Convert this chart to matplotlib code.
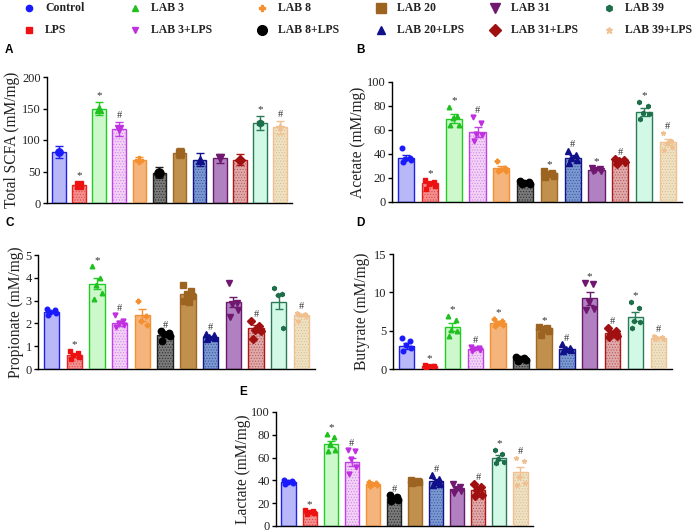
import numpy as np
import matplotlib
matplotlib.use('Agg')
import matplotlib.pyplot as plt

plt.rcParams['font.family'] = ['Liberation Serif', 'DejaVu Serif']
plt.rcParams['hatch.linewidth'] = 0.45

W, H = 698, 532

groups = ['Control', 'LPS', 'LAB 3', 'LAB 3+LPS', 'LAB 8', 'LAB 8+LPS',
          'LAB 20', 'LAB 20+LPS', 'LAB 31', 'LAB 31+LPS', 'LAB 39', 'LAB 39+LPS']

# A - total SCFA (mean and SEM only)
scfa_mean = [81, 29, 150, 118, 69, 48, 79, 69, 71, 69, 127, 120]
scfa_sem = [10, 4, 10, 11, 4, 9, 8, 10, 7, 9, 11, 10]
scfa_sig = ['', '*', '*', '#', '', '', '', '', '', '', '*', '#']

# B - acetate
acetate_mean = [37, 15.5, 69.5, 58.5, 28, 15.8, 24, 37, 27, 34, 75, 50]
acetate_sem = [2.3, 1.6, 3.5, 4.3, 1.6, 0.5, 1.2, 2.0, 0.6, 0.8, 3.0, 2.5]
acetate_pts = [[45, 37, 36, 35, 33], [18.5, 17, 15, 13.5, 11], [79, 72, 70, 64, 64],
               [71, 66, 57, 56, 51], [34, 28.5, 27, 26, 25.5], [17.5, 16.5, 15.8, 15.2, 14.7],
               [26, 24.5, 23, 21.5, 21], [42.5, 39, 36.5, 35, 32.5], [28.5, 27.5, 26.5, 26, 25.5],
               [36, 35, 34, 33, 32], [83, 80, 74, 73, 69.5], [57.5, 51, 49, 46, 43]]
acetate_sig = ['', '*', '*', '#', '', '', '*', '#', '*', '#', '*', '#']

# C - propionate
propionate_mean = [2.5, 0.6, 3.74, 2.0, 2.37, 1.48, 3.27, 1.4, 2.92, 1.8, 2.95, 2.37]
propionate_sem = [0.05, 0.06, 0.25, 0.12, 0.25, 0.08, 0.12, 0.04, 0.22, 0.14, 0.3, 0.06]
propionate_pts = [[2.65, 2.58, 2.52, 2.45, 2.36], [0.78, 0.68, 0.6, 0.52, 0.45],
                  [4.5, 3.97, 3.7, 3.34, 3.05], [2.36, 2.1, 2.0, 1.92, 1.83],
                  [2.97, 2.32, 2.12, 1.95], [1.65, 1.58, 1.52, 1.45, 1.25],
                  [3.7, 3.42, 3.3, 3.2, 3.0, 2.95], [1.54, 1.47, 1.42, 1.37, 1.32],
                  [3.78, 2.9, 2.83, 2.6, 2.27], [2.1, 1.87, 1.73, 1.65, 1.33],
                  [3.56, 3.27, 3.24, 1.8], [2.46, 2.42, 2.38, 2.33, 2.1]]
propionate_sig = ['', '*', '*', '#', '', '#', '', '#', '', '#', '', '#']

# D - butyrate
butyrate_mean = [3.0, 0.4, 5.5, 2.6, 6.0, 1.3, 5.3, 2.6, 9.2, 4.7, 6.8, 4.1]
butyrate_sem = [0.35, 0.05, 0.5, 0.1, 0.2, 0.1, 0.25, 0.15, 0.8, 0.2, 0.6, 0.12]
butyrate_pts = [[4.0, 3.7, 3.1, 2.7, 2.3], [0.5, 0.45, 0.4, 0.35, 0.3], [6.9, 6.4, 5.1, 4.9, 4.3],
                [2.9, 2.7, 2.6, 2.5, 2.4], [6.5, 6.2, 6.0, 5.8, 5.65], [1.6, 1.45, 1.3, 1.2, 1.05],
                [5.5, 5.4, 5.2, 4.9, 4.5], [3.2, 2.8, 2.6, 2.45, 2.35], [11.2, 11.1, 8.8, 7.8, 7.7],
                [5.35, 4.9, 4.6, 4.35, 4.2], [8.8, 8.0, 6.2, 6.1, 5.35], [4.35, 4.2, 4.1, 3.95, 3.9]]
butyrate_sig = ['', '*', '*', '#', '*', '', '*', '#', '*', '#', '*', '#']

# E - lactate
lactate_mean = [38.5, 12, 72, 56.5, 36.5, 24.5, 39.5, 39.5, 32.5, 31.5, 60, 47.5]
lactate_sem = [0.6, 0.6, 3, 3.5, 0.7, 1.2, 0.4, 1.5, 1.2, 2.2, 2, 4.5]
lactate_pts = [[40, 39.3, 38.5, 37.8, 36.7], [13.7, 12.8, 12, 11, 10.3], [80.5, 78.5, 72, 67, 66],
               [66.5, 66, 59, 52, 46], [38.6, 37.5, 36.5, 35.6, 35], [27, 25.5, 24, 22.5, 22],
               [40.2, 39.6, 39, 38.4, 37.8], [44.5, 41, 38.5, 37, 35.7], [36.5, 34.5, 32.5, 30.5, 29],
               [37, 34.2, 31.5, 27, 26], [66.5, 63.5, 59, 56, 55.3], [60, 57, 43, 37.5, 36]]
lactate_sig = ['', '*', '*', '#', '', '#', '', '#', '', '#', '*', '#']

# styles per group
face = ['#b8b8f8', '#f29090', '#ccf8cc', '#f2d2f4', '#f4b47c', '#7a7a7a',
        '#c0904c', '#7c98d0', '#b080c0', '#dcaaaa', '#d2f8e6', '#efe2c4']
edge = ['#2020e8', '#e82020', '#22cc22', '#c040e8', '#f59030', '#202020',
        '#a06828', '#12128a', '#6a1a6a', '#b01818', '#2a7a58', '#f0c090']
hatch_col = [None, '#e84040', None, '#d27ef0', None, '#2a2a2a',
             None, '#3454a4', None, '#c45050', None, '#d8bc88']
mcol = ['#1a1aff', '#ee1111', '#20c020', '#c030e0', '#f59030', '#000000',
        '#9c6420', '#10108a', '#701870', '#a01010', '#1e6e4a', '#f0c090']
mk = ['o', 's', '^', 'v', 'P', 'o', 's', '^', 'v', 'D', 'h', '*']
ms = [3.3, 3.3, 3.3, 3.5, 3.3, 4.6, 4.3, 3.8, 4.3, 3.6, 3.0, 3.4]
jit = [-0.2, 0.15, -0.05, 0.2, -0.15, 0.05]


def rect(l, r, b, t):
    return [l / W, 1 - b / H, (r - l) / W, (b - t) / H]


def panel(box, means, sems, pts, sig, ylim, yticks, ylabel, lab_x, letter, letter_xy):
    ax = fig.add_axes(rect(*box))
    x = np.arange(len(groups))
    for i in x:
        if hatch_col[i]:
            ax.bar(i, means[i], 0.68, color=face[i], edgecolor=hatch_col[i], hatch='......',
                   linewidth=0, zorder=2)
        else:
            ax.bar(i, means[i], 0.68, color=face[i], linewidth=0, zorder=2)
        ax.bar(i, means[i], 0.68, fill=False, edgecolor=edge[i], linewidth=1.0, zorder=3)
        ax.errorbar(i, means[i], yerr=sems[i], fmt='none', ecolor=edge[i], elinewidth=1,
                    capsize=3.2, capthick=1, zorder=5)
        top = means[i] + sems[i]
        if pts is None:
            ax.plot(i, means[i], marker=mk[i], color=mcol[i], ms=ms[i] + 2, zorder=6,
                    linestyle='none')
        else:
            p = pts[i]
            ax.plot(i + np.array(jit[:len(p)]), p, marker=mk[i], color=mcol[i], ms=ms[i],
                    linestyle='none', zorder=6)
            top = max(top, max(p))
        if sig[i]:
            ax.text(i, top + ylim * 0.015, sig[i], ha='center', va='bottom',
                    fontsize=8 if sig[i] == '*' else 7.5, color='#333333', zorder=7)
    ax.set_xlim(-0.6, 11.6)
    ax.set_ylim(0, ylim)
    ax.set_yticks(yticks)
    ax.set_xticks([])
    ax.spines['top'].set_visible(False)
    ax.spines['right'].set_visible(False)
    ax.spines['left'].set_linewidth(1)
    ax.spines['bottom'].set_linewidth(1)
    ax.tick_params(axis='y', direction='out', length=3, width=1, labelsize=8.9, pad=1.5,
                   labelcolor='#222222')
    ax.set_ylabel(ylabel, fontsize=11.2, color='#222222')
    l, r = box[0], box[1]
    # ylabel anchor is the right edge of the rotated text
    ax.yaxis.set_label_coords((lab_x - l) / (r - l), 0.5)
    fig.text(letter_xy[0] / W, 1 - letter_xy[1] / H, letter, family='Liberation Sans',
             fontweight='bold', fontsize=8.5, ha='left', va='center')
    return ax


fig = plt.figure(figsize=(W / 100, H / 100), dpi=100)

panel((47, 292, 203, 77), scfa_mean, scfa_sem, None, scfa_sig, 200, [0, 50, 100, 150, 200],
      'Total SCFA (mM/mg)', 20, 'A', (5, 50))
panel((392, 682, 202, 82), acetate_mean, acetate_sem, acetate_pts, acetate_sig, 100,
      [0, 20, 40, 60, 80, 100], 'Acetate (mM/mg)', 366, 'B', (356, 50))
panel((38, 315, 369, 255), propionate_mean, propionate_sem, propionate_pts, propionate_sig, 5,
      [0, 1, 2, 3, 4, 5], 'Propionate (mM/mg)', 24, 'C', (5, 223))
panel((393, 672, 369, 254), butyrate_mean, butyrate_sem, butyrate_pts, butyrate_sig, 15,
      [0, 5, 10, 15], 'Butyrate (mM/mg)', 370, 'D', (356, 223))
panel((276, 533, 526, 412), lactate_mean, lactate_sem, lactate_pts, lactate_sig, 100,
      [0, 20, 40, 60, 80, 100], 'Lactate (mM/mg)', 251, 'E', (239, 392))

# legend in pixel coordinates
leg = fig.add_axes([0, 1 - 42 / H, 1, 42 / H])
leg.set_xlim(0, W)
leg.set_ylim(42, 0)
leg.axis('off')
col_x = [29, 135, 262, 381, 495, 609]
row_y = [8, 30]
leg_ms = [4.5, 4.5, 4.5, 4.5, 5, 7, 7, 6, 7, 6, 4.5, 5]
for i, g in enumerate(groups):
    cx = col_x[i // 2]
    cy = row_y[i % 2]
    leg.plot(cx, cy, marker=mk[i], color=mcol[i], ms=leg_ms[i], linestyle='none')
    leg.text(cx + 16, cy, g, fontsize=8.5, fontweight='bold', va='center', ha='left',
             color='#222222')

fig.savefig('out.png', dpi=100)
